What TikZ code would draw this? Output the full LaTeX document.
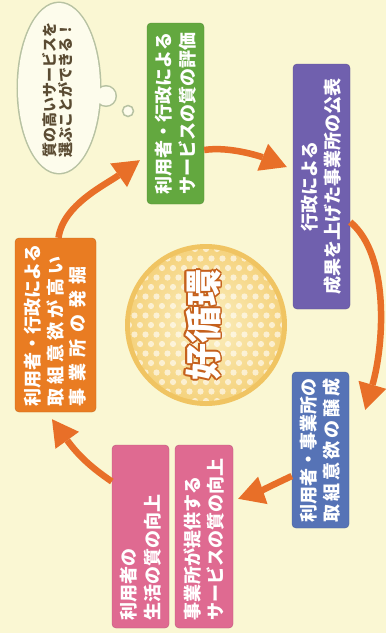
\documentclass[tikz,border=0pt]{standalone}
\usepackage{fontspec}
\newfontfamily\jp{Noto Sans CJK JP}
\usepackage{contour}
\usetikzlibrary{arrows.meta,calc}
\definecolor{bg}{HTML}{FAF7D3}
\definecolor{bubline}{HTML}{B7C2A2}
\definecolor{bubfill}{HTML}{FDFCEC}
\definecolor{bubtext}{HTML}{5A4B32}
\definecolor{cgreen}{HTML}{63A83F}
\definecolor{cpurple}{HTML}{7060AE}
\definecolor{corange}{HTML}{E97C22}
\definecolor{cblue}{HTML}{5673B6}
\definecolor{cpink}{HTML}{DF6A91}
\definecolor{carrow}{HTML}{E86F28}
\definecolor{ring}{HTML}{F0C462}
\definecolor{circin}{HTML}{FBF1C4}
\definecolor{circout}{HTML}{F5D37F}
\definecolor{cout}{HTML}{C5601C}
\contourlength{1.6pt}
\ExplSyntaxOn
\NewDocumentCommand\distr{mm}{\makebox[#1][s]{\tl_map_inline:nn{#2}{##1\hfil}\unskip}}
\ExplSyntaxOff
\tikzset{
  box/.style={rounded corners=4pt, inner sep=0pt, text=white,
    font=\jp\bfseries\fontsize{18}{23.5}\selectfont},
  arr/.style={draw=carrow, line width=6.5pt,
    -{Triangle[length=26pt,width=29pt,line width=0pt]}},
}
\begin{document}
\begin{tikzpicture}[x=1pt,y=-1pt]
\fill[bg] (0,0) rectangle (386,633);
\useasboundingbox (0,0) rectangle (386,633);

% thought bubble
\path[draw=bubline, line width=3pt] (59,88) ellipse [x radius=41, y radius=85] (106,96) circle (9.5);
\fill[bubfill] (59,88) ellipse [x radius=41, y radius=85] (106,96) circle (9.5);
\filldraw[fill=bubfill, draw=bubline, line width=1.5pt] (128,111) circle (5.5);
\node[rotate=90, align=center, text=bubtext, inner sep=0pt,
  font=\jp\bfseries\fontsize{15}{16}\selectfont] (bubtext) at (57.5,90)
  {質の高いサービスを\\選ぶことができる！};

% boxes
\node[box, fill=cgreen, draw=cgreen!85!black, minimum width=57pt, minimum height=181pt] (green) at (175.5,113.5)
  {\rotatebox{90}{\parbox{162pt}{\centering 利用者・行政による\\サービスの質の評価}}};
\node[box, fill=cpurple, draw=cpurple!85!black, minimum width=57pt, minimum height=245pt] (purple) at (321.5,186.5)
  {\rotatebox{90}{\parbox{225pt}{\centering 行政による\\成果を上げた事業所の公表}}};
\node[box, fill=corange, draw=corange!85!black, minimum width=81pt, minimum height=174pt,
  font=\jp\bfseries\fontsize{18}{22.5}\selectfont] (orange) at (55.5,325)
  {\rotatebox{90}{\parbox{162pt}{\raggedright 利用者・行政による\\\distr{150pt}{取組意欲が高い}\\\distr{140pt}{事業所の発掘}}}};
\node[box, fill=cblue, draw=cblue!85!black, minimum width=57pt, minimum height=156pt] (blue) at (320.5,450)
  {\rotatebox{90}{\parbox{144pt}{\raggedright 利用者・事業所の\\\distr{144pt}{取組意欲の醸成}}}};
\node[box, fill=cpink, draw=cpink!85!black, minimum width=57pt, minimum height=183pt] (pinkA) at (140.5,536.5)
  {\rotatebox{90}{\parbox{167pt}{\raggedright 利用者の\\生活の質の向上}}};
\node[box, fill=cpink, draw=cpink!85!black, minimum width=58pt, minimum height=183pt] (pinkB) at (204,536.5)
  {\rotatebox{90}{\parbox{167pt}{\raggedright 事業所が提供する\\サービスの質の向上}}};

% central circle
\fill[ring] (206,325) circle (81);
\shade[inner color=circin, outer color=circout] (206,325) circle (76);
\begin{scope}
  \clip (206,325) circle (76);
  \foreach \i in {-9,...,9}
    \foreach \j in {-8,...,8}
      \fill[white, opacity=0.6] ({206+\j*11+mod(abs(\i),2)*5.5},{325+\i*9.5}) circle (3.1);
\end{scope}
\node[rotate=90, text=white, inner sep=0pt,
  font=\jp\bfseries\fontsize{37}{40}\selectfont] (loop) at (204,325) {\contour{cout}{好循環}};

% arrows
\draw[arr] ($(orange.north)+(3,0)$) .. controls (63,205) and (105,185) .. ($(green.south west)+(-7,-44)$);
\draw[arr] ($(green.east)+(0,36.5)$) .. controls (230,146) and (262,157) .. ($(purple.west)+(-6,-19.5)$);
\draw[arr] ($(purple.east)+(0,35.5)$) .. controls (390,255) and (384,345) .. ($(blue.north east)+(16,38)$);
\draw[arr] ($(blue.west)+(0,26)$) .. controls (275,484) and (258,492) .. ($(pinkB.north east)+(5,54)$);
\draw[arr] ($(pinkA.west)+(0,-55)$) .. controls (95,470) and (80,458) .. ($(orange.south)+(-3.5,7)$);
\end{tikzpicture}
\end{document}
